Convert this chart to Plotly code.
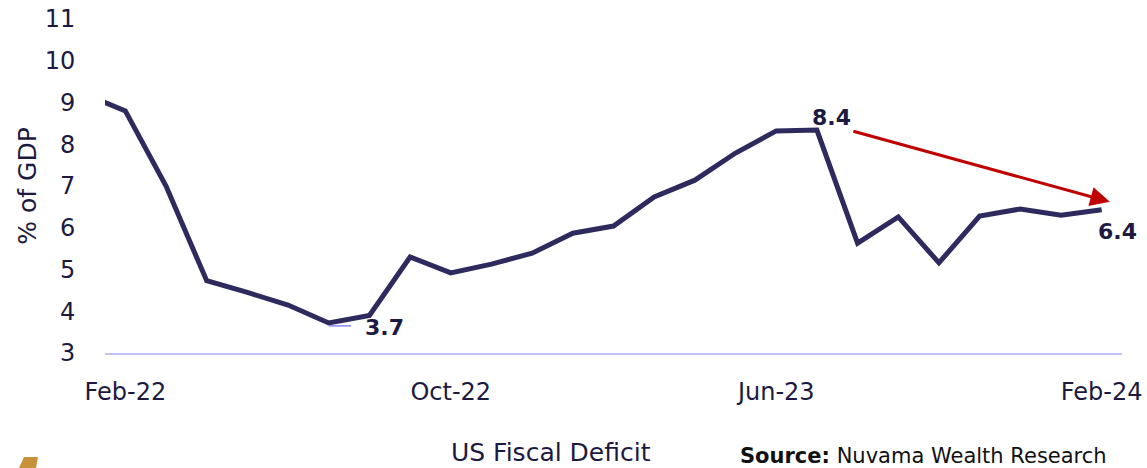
import plotly.graph_objects as go

months = ["Jan-22", "Feb-22", "Mar-22", "Apr-22", "May-22", "Jun-22", "Jul-22", "Aug-22",
          "Sep-22", "Oct-22", "Nov-22", "Dec-22", "Jan-23", "Feb-23", "Mar-23", "Apr-23",
          "May-23", "Jun-23", "Jul-23", "Aug-23", "Sep-23", "Oct-23", "Nov-23", "Dec-23",
          "Jan-24", "Feb-24"]
deficit = [9.2, 8.8, 7.0, 4.73, 4.45, 4.15, 3.72, 3.9, 5.3, 4.92, 5.13, 5.39, 5.87, 6.04,
           6.74, 7.14, 7.79, 8.32, 8.34, 5.63, 6.26, 5.16, 6.28, 6.45, 6.3, 6.43]
tick_labels = ["Feb-22", "Oct-22", "Jun-23", "Feb-24"]
y_ticks = [3, 4, 5, 6, 7, 8, 9, 10, 11]
point_labels = {"Jul-22": "3.7", "Jul-23": "8.4", "Feb-24": "6.4"}

# position index: Feb-22 = 0
xpos = [i - 1 for i in range(len(months))]
pos = {m: p for m, p in zip(months, xpos)}

FONT = "DejaVu Sans"
NAVY = "#2e2a5e"
TXT = "#1c1a40"

L, R, T, B = 105, 25, 19, 115
PW, PH = 1147 - L - R, 468 - T - B


def px(xp):
    return (xp - L) / PW


def py(yp):
    return (468 - B - yp) / PH


fig = go.Figure()
fig.add_trace(go.Scatter(x=xpos, y=deficit, mode="lines",
                         line=dict(color=NAVY, width=5), hoverinfo="skip",
                         cliponaxis=True))

# small leader line near the minimum
fig.add_shape(type="line", x0=pos["Jul-22"], x1=pos["Jul-22"] + 0.55, y0=3.65, y1=3.65,
              line=dict(color="#8a86ff", width=1.5), xref="x", yref="y")

offsets = {"Jul-22": (1.38, -0.12), "Jul-23": (0.35, 0.29), "Feb-24": (0.4, -0.51)}
for m, t in point_labels.items():
    dx, dy = offsets[m]
    fig.add_annotation(x=pos[m] + dx, y=deficit[months.index(m)] + dy, text="<b>%s</b>" % t,
                       showarrow=False, font=dict(family=FONT, size=22, color=TXT),
                       xanchor="center", yanchor="middle")

# red arrow
fig.add_annotation(x=24.2, y=6.62, ax=17.86, ay=8.32, xref="x", yref="y", axref="x", ayref="y",
                   text="", showarrow=True, arrowhead=2, arrowsize=1.3, arrowwidth=3,
                   arrowcolor="#c00000")

# title and source
fig.add_annotation(x=px(551), y=py(452), xref="paper", yref="paper", text="US Fiscal Deficit",
                   showarrow=False, font=dict(family=FONT, size=25, color=TXT),
                   xanchor="center", yanchor="middle")
fig.add_annotation(x=px(738), y=py(456), xref="paper", yref="paper",
                   text="<b>Source:</b> Nuvama Wealth Research", showarrow=False,
                   font=dict(family=FONT, size=21, color="#111111"),
                   xanchor="left", yanchor="middle")

# gold logo fragment
fig.add_shape(type="path", xref="paper", yref="paper",
              path="M %f %f L %f %f L %f %f L %f %f Z" % (
                  px(19), py(468), px(24), py(457), px(38), py(457), px(36), py(468)),
              fillcolor="#c8923a", line=dict(width=0))

fig.update_xaxes(range=[-0.5, 24.5], tickvals=[pos[t] for t in tick_labels], ticktext=tick_labels,
                 showgrid=False, zeroline=False, showline=True, linecolor="#c4c2f6", linewidth=2,
                 ticks="outside", ticklen=16, tickcolor="rgba(0,0,0,0)", automargin=False,
                 tickfont=dict(family=FONT, size=24, color=TXT))
fig.update_yaxes(range=[3, 11], tickvals=y_ticks, showgrid=False, zeroline=False, showline=False,
                 ticks="outside", ticklen=24, tickcolor="rgba(0,0,0,0)", automargin=False,
                 tickfont=dict(family=FONT, size=24, color=TXT),
                 title=dict(text="% of GDP", font=dict(family=FONT, size=25, color=TXT), standoff=0))

fig.update_layout(width=1147, height=468, margin=dict(l=L, r=R, t=T, b=B),
                  paper_bgcolor="white", plot_bgcolor="white", showlegend=False)

fig.write_html("out.html")
